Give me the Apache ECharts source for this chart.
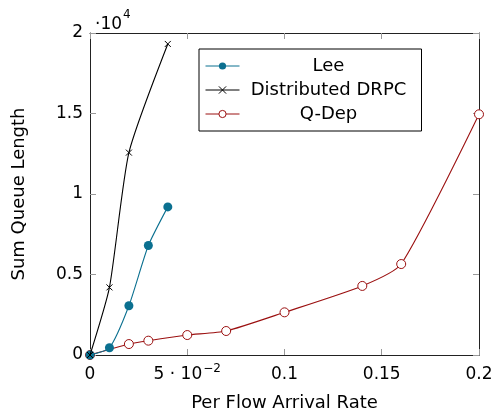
<!DOCTYPE html>
<html>
<head>
<meta charset="utf-8">
<script src="https://cdn.jsdelivr.net/npm/echarts@6/dist/echarts.min.js"></script>
<style>html,body{margin:0;padding:0;background:#fff;}#c{width:495px;height:410px;}</style>
</head>
<body>
<div id="c"></div>
<script>
var xTicks = [0, 0.05, 0.1, 0.15, 0.2];
var yTicks = [0, 5000, 10000, 15000, 20000];
var xLee = [0, 0.01, 0.02, 0.03, 0.04];
var yLee = [0, 450, 3060, 6800, 9200];
var xDrpc = [0, 0.01, 0.02, 0.04];
var yDrpc = [0, 4200, 12570, 19320];
var xQdep = [0, 0.02, 0.03, 0.05, 0.07, 0.1, 0.14, 0.16, 0.2];
var yQdep = [0, 680, 890, 1240, 1490, 2650, 4290, 5650, 14950];
var names = ['Lee', 'Distributed DRPC', 'Q-Dep'];

function pairs(xs, ys) { return xs.map(function (x, i) { return [x, ys[i]]; }); }
var FONT = 'DejaVu Sans';
var chart = echarts.init(document.getElementById('c'));

function xLabel(v) {
  if (Math.abs(v) < 1e-9) return '{a|0}';
  if (Math.abs(v - 0.05) < 1e-9) return '{a|5 · 10}{b|−2}';
  return '{a|' + String(+v.toFixed(2)) + '}';
}
var axisLineStyle = { color: '#222', width: 1 };
var tickStyle = { inside: true, length: 6, lineStyle: { color: '#999', width: 1 } };

chart.setOption({
  animation: false,
  backgroundColor: '#fff',
  textStyle: { fontFamily: FONT },
  title: {
    text: '{a|·10}{b|4}',
    left: 90, top: 4,
    textStyle: {
      fontWeight: 'normal',
      rich: {
        a: { fontFamily: FONT, fontSize: 17, fontWeight: 'normal', color: '#000', lineHeight: 24, verticalAlign: 'bottom' },
        b: { fontFamily: FONT, fontSize: 12, fontWeight: 'normal', color: '#000', lineHeight: 24, verticalAlign: 'top', padding: [0, 0, 0, 1] }
      }
    }
  },
  grid: { left: 90, top: 33, right: 16, bottom: 55, containLabel: false, outerBoundsMode: 'none' },
  legend: {
    data: names,
    orient: 'vertical',
    left: 199, top: 49,
    padding: [8, 9, 8, 6],
    itemGap: 6,
    itemWidth: 34,
    itemHeight: 9,
    itemTextGap: 5,
    borderColor: '#000',
    borderWidth: 1,
    backgroundColor: '#fff',
    lineStyle: { width: 1 },
    itemStyle: { borderWidth: 1 },
    formatter: function (n) { return '{c|' + n + '}'; },
    textStyle: {
      rich: { c: { fontFamily: FONT, fontSize: 18, color: '#000', width: 168, align: 'center', lineHeight: 20 } }
    }
  },
  xAxis: [{
    type: 'value', min: 0, max: 0.2, interval: 0.05,
    name: 'Per Flow Arrival Rate', nameLocation: 'middle', nameGap: 39,
    nameTextStyle: { fontFamily: FONT, fontSize: 18, color: '#000' },
    axisLine: { show: true, onZero: false, lineStyle: axisLineStyle },
    axisTick: tickStyle,
    splitLine: { show: false },
    axisLabel: {
      margin: 8, formatter: xLabel,
      rich: {
        a: { fontFamily: FONT, fontSize: 17, color: '#000', lineHeight: 20, verticalAlign: 'bottom' },
        b: { fontFamily: FONT, fontSize: 12, color: '#000', lineHeight: 20, verticalAlign: 'top', padding: [0, 0, 0, 1] }
      }
    }
  }, {
    type: 'value', min: 0, max: 0.2, interval: 0.05, position: 'top',
    axisLine: { show: true, onZero: false, lineStyle: axisLineStyle },
    axisTick: tickStyle, axisLabel: { show: false }, splitLine: { show: false }
  }],
  yAxis: [{
    type: 'value', min: 0, max: 20000, interval: 5000,
    name: 'Sum Queue Length', nameLocation: 'middle', nameGap: 62, nameRotate: 90,
    nameTextStyle: { fontFamily: FONT, fontSize: 18, color: '#000' },
    axisLine: { show: true, onZero: false, lineStyle: axisLineStyle },
    axisTick: tickStyle,
    splitLine: { show: false },
    axisLabel: {
      margin: 7, fontFamily: FONT, fontSize: 17, color: '#000',
      formatter: function (v) { return String(+(v / 10000).toFixed(2)); }
    }
  }, {
    type: 'value', min: 0, max: 20000, interval: 5000, position: 'right',
    axisLine: { show: true, onZero: false, lineStyle: axisLineStyle },
    axisTick: tickStyle, axisLabel: { show: false }, splitLine: { show: false }
  }],
  series: [{
    name: names[0], type: 'line', data: pairs(xLee, yLee), smooth: 0.2, z: 3,
    symbol: 'circle', symbolSize: 9,
    lineStyle: { color: '#0b7090', width: 1.1 },
    itemStyle: { color: '#0b7090', borderWidth: 0 }
  }, {
    name: names[1], type: 'line', data: pairs(xDrpc, yDrpc), smooth: 0.2, z: 4,
    symbol: 'path://M0,0L10,10M10,0L0,10', symbolSize: 6,
    lineStyle: { color: '#000', width: 1.1 },
    itemStyle: { color: '#000', borderColor: '#000', borderWidth: 1 }
  }, {
    name: names[2], type: 'line', data: pairs(xQdep, yQdep), smooth: 0.2, z: 2,
    symbol: 'circle', symbolSize: 9,
    lineStyle: { color: '#9b1010', width: 1.1 },
    itemStyle: { color: '#ffffff', borderColor: '#9b1010', borderWidth: 1 }
  }]
});
</script>
</body>
</html>
